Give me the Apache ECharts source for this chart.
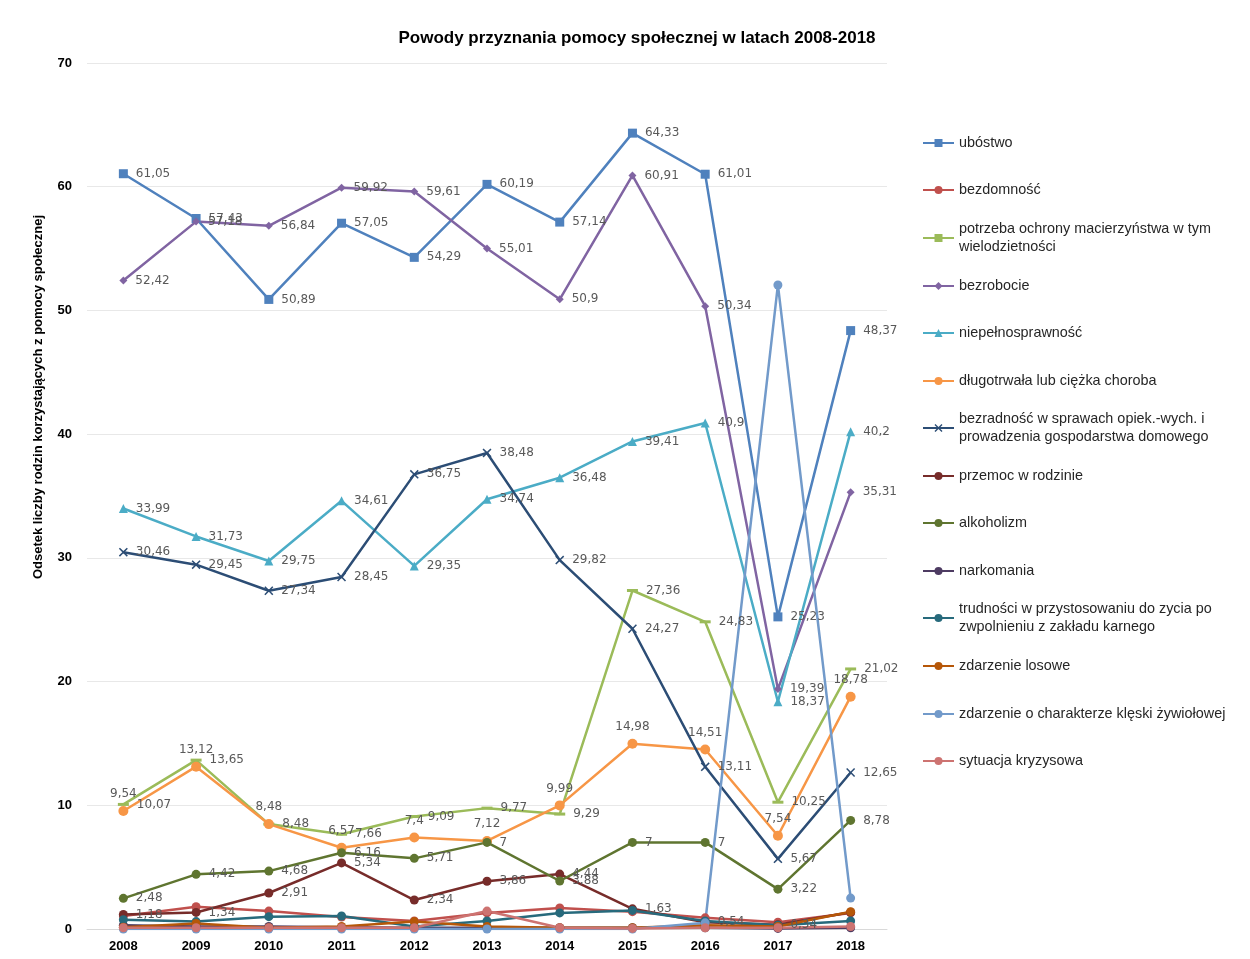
<!DOCTYPE html>
<html>
<head>
<meta charset="utf-8">
<script src="https://cdn.jsdelivr.net/npm/echarts@6/dist/echarts.min.js"></script>
<style>html,body{margin:0;padding:0;background:#fff}#c{width:1250px;height:959px}</style>
</head>
<body>
<div id="c"></div>
<script>
const years = ['2008','2009','2010','2011','2012','2013','2014','2015','2016','2017','2018'];
const yTicks = [0,10,20,30,40,50,60,70];

const ubostwo        = [61.05,57.43,50.89,57.05,54.29,60.19,57.14,64.33,61.01,25.23,48.37];
const bezdomnosc     = [1.05,1.8,1.45,0.97,0.65,1.3,1.7,1.4,0.9,0.55,1.3];
const macierzynstwo  = [10.07,13.65,8.48,7.66,9.09,9.77,9.29,27.36,24.83,10.25,21.02];
const bezrobocie     = [52.42,57.18,56.84,59.92,59.61,55.01,50.9,60.91,50.34,19.39,35.31];
const niepelnospr    = [33.99,31.73,29.75,34.61,29.35,34.74,36.48,39.41,40.9,18.37,40.2];
const choroba        = [9.54,13.12,8.48,6.57,7.4,7.12,9.99,14.98,14.51,7.54,18.78];
const bezradnosc     = [30.46,29.45,27.34,28.45,36.75,38.48,29.82,24.27,13.11,5.67,12.65];
const przemoc        = [1.18,1.34,2.91,5.34,2.34,3.86,4.44,1.63,0.54,0.34,1.35];
const alkoholizm     = [2.48,4.42,4.68,6.16,5.71,7,3.88,7,7,3.22,8.78];
const narkomania     = [0.3,0.2,0.2,0.15,0.1,0.1,0.1,0.1,0.1,0.05,0.1];
const trudnosci      = [0.75,0.6,1.0,1.05,0.2,0.65,1.3,1.5,0.65,0.3,0.65];
const losowe         = [0.15,0.45,0.1,0.2,0.6,0.2,0.1,0.1,0.3,0.2,1.4];
const kleska         = [0,0,0,0,0,0,0,0,0.5,52.06,2.5];
const kryzysowa      = [0.1,0.1,0.1,0.1,0.1,1.45,0.1,0.05,0.1,0.1,0.2];

const names = ['ubóstwo','bezdomność','potrzeba ochrony macierzyństwa w tym wielodzietności','bezrobocie','niepełnosprawność','długotrwała lub ciężka choroba','bezradność w sprawach opiek.-wych. i prowadzenia gospodarstwa domowego','przemoc w rodzinie','alkoholizm','narkomania','trudności w przystosowaniu do zycia po zwpolnieniu z zakładu karnego','zdarzenie losowe','zdarzenie o charakterze klęski żywiołowej','sytuacja kryzysowa'];
const legendLines = {
  'potrzeba ochrony macierzyństwa w tym wielodzietności':'potrzeba ochrony macierzyństwa w tym\nwielodzietności',
  'bezradność w sprawach opiek.-wych. i prowadzenia gospodarstwa domowego':'bezradność w sprawach opiek.-wych. i\nprowadzenia gospodarstwa domowego',
  'trudności w przystosowaniu do zycia po zwpolnieniu z zakładu karnego':'trudności w przystosowaniu do zycia po\nzwpolnieniu z zakładu karnego'
};
const dataList = [ubostwo,bezdomnosc,macierzynstwo,bezrobocie,niepelnospr,choroba,bezradnosc,przemoc,alkoholizm,narkomania,trudnosci,losowe,kleska,kryzysowa];
const colors = ['#4F81BD','#C0504D','#9BBB59','#8064A2','#4BACC6','#F79646','#2C4D75','#772C2A','#5F7530','#4D3B62','#276A7C','#B65708','#729ACA','#CD7371'];
const xPath = 'path://M0,1.2L1.2,0L5,3.8L8.8,0L10,1.2L6.2,5L10,8.8L8.8,10L5,6.2L1.2,10L0,8.8L3.8,5Z';
const symbols = ['rect','circle','rect','diamond','triangle','circle',xPath,'circle','circle','circle','circle','circle','circle','circle'];
const symSizes = [9,9,[11,3],8,9,10,9,9,9,9,9,9,9,9];
const labelPos = ['right',null,'right','right','right','top','right','right','right',null,null,null,null,null];
// points whose data label is not shown in the original (series index -> point indexes)
const hiddenLabels = {7: [10]};

const fmt = p => String(p.value).replace('.', ',');

const series = names.map((n,i) => ({
  name: n, type: 'line',
  data: dataList[i].map((v,j) => (hiddenLabels[i] && hiddenLabels[i].includes(j)) ? {value: v, label: {show: false}} : v),
  symbol: symbols[i], symbolSize: symSizes[i], showAllSymbol: true,
  lineStyle: {color: colors[i], width: 2.5},
  itemStyle: {color: colors[i]},
  label: labelPos[i] ? {show: true, position: labelPos[i], distance: labelPos[i]==='top'?6:8,
    formatter: fmt, color: '#595959', fontFamily: 'DejaVu Sans', fontSize: 12} : {show: false},
  emphasis: {disabled: true},
  animation: false
}));

const legendY = [143,190,238,286,333,381,428,476,523,571,618,666,714,761];
const legends = names.map((n,i) => {
  const two = !!legendLines[n];
  return {
    data: [n], orient: 'vertical', left: 922, top: legendY[i] - (two ? 27 : 9),
    padding: 0, itemWidth: 31, itemHeight: 10, selectedMode: false,
    formatter: name => legendLines[name] || name,
    textStyle: {fontFamily: 'Liberation Sans', fontSize: 14.4, color: '#262626', lineHeight: 18,
      padding: two ? [18,0,0,0] : 0}
  };
});

const chart = echarts.init(document.getElementById('c'), null, {renderer: 'canvas'});
chart.setOption({
  backgroundColor: '#fff',
  animation: false,
  color: colors,
  title: {text: 'Powody przyznania pomocy społecznej w latach 2008-2018', left: 632, top: 25, textAlign: 'center',
    textStyle: {fontFamily: 'Liberation Sans', fontSize: 17, fontWeight: 'bold', color: '#000'}},
  grid: {left: 87, right: 363, top: 63, bottom: 30, containLabel: false},
  legend: legends,
  xAxis: {type: 'category', data: years, boundaryGap: true,
    axisLine: {show: true, lineStyle: {color: '#D9D9D9', width: 1}},
    axisTick: {show: false},
    axisLabel: {fontFamily: 'Liberation Sans', fontSize: 13, fontWeight: 'bold', color: '#000', margin: 11}},
  yAxis: {type: 'value', min: yTicks[0], max: yTicks[yTicks.length-1], interval: 10,
    axisLine: {show: false}, axisTick: {show: false},
    splitLine: {lineStyle: {color: '#E8E8E8', width: 1}},
    axisLabel: {fontFamily: 'Liberation Sans', fontSize: 13, fontWeight: 'bold', color: '#000', margin: 15}},
  graphic: [{type: 'text', rotation: Math.PI/2, x: 38, y: 397,
    style: {text: 'Odsetek liczby rodzin korzystających z pomocy społecznej', fontFamily: 'Liberation Sans',
      fontSize: 13, fontWeight: 'bold', fill: '#000', align: 'center', verticalAlign: 'middle'}}],
  series: series
});
</script>
</body>
</html>
